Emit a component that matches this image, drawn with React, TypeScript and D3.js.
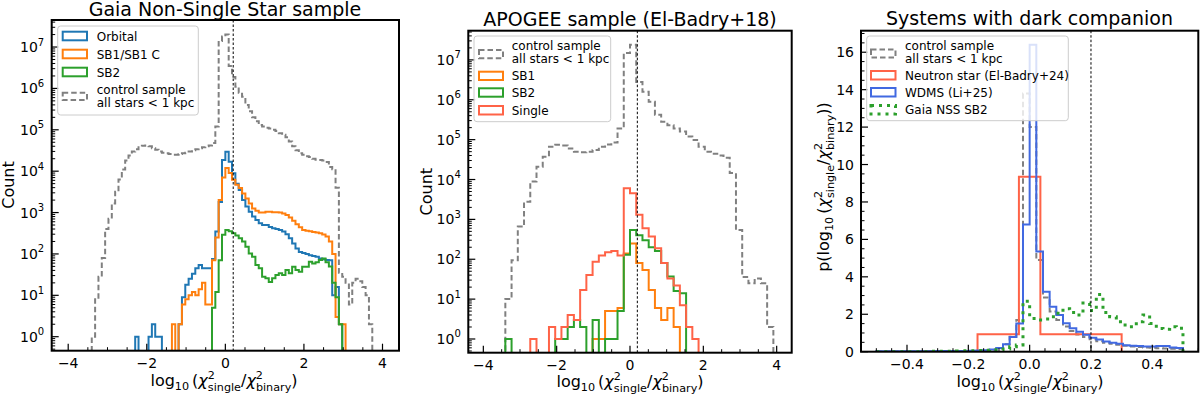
import React from "react";
import * as d3 from "d3";

const FONT = "'DejaVu Sans', sans-serif";

// ---------------- Panel 1: Gaia Non-Single Star sample ----------------
const p1ControlStart = -3.4;
const p1ControlBin = 0.085;
const p1Control = [
  1, 8, 28, 80, 400, 710, 1660, 3200, 6300, 11000, 18000, 24000, 30000, 34000, 38000, 41000, 42000,
  40000, 36000, 33000, 30000, 28000, 27000, 26000, 25000, 25000, 26000, 27000, 28000, 30000, 32000,
  34000, 36000, 38000, 40000, 42000, 48000, 120000, 1.4e7, 1.8e7, 2.0e7, 3.5e6, 1.9e6, 1.1e6, 7.9e5,
  6.3e5, 4.0e5, 2.8e5, 2.0e5, 1.6e5, 1.3e5, 1.2e5, 1.12e5, 1.07e5, 1.0e5, 93000, 83000, 76000, 66000,
  52000, 40000, 32000, 27000, 25000, 23000, 22000, 20000, 19000, 18600, 18200, 16600, 12600, 11200,
  4000, 35, 28, 20, 6, 20, 25, 22, 16, 10, 2,
];
const p1Start = -2.38;
const p1Bin = 0.085;
const p1Orbital = [
  0, 1, 0, 0, 0, 1, 2, 1, 1, 0, 0, 0, 0, 0, 2, 9, 18, 25, 33, 45, 54, 45, 45, 45, 75, 350, 1800, 18600,
  29500, 17000, 8900, 5000, 3500, 2000, 1400, 1050, 800, 660, 550, 500, 500, 450, 420, 400, 380, 350,
  300, 240, 180, 135, 112, 105, 100, 93, 89, 85, 78, 74, 71, 70, 10, 16, 2, 0,
];
const p1SB1 = [
  0, 0, 0, 0, 0, 0, 0, 0, 0, 0, 0, 0, 2, 0, 2, 6, 8, 10, 12, 10, 14, 20, 6, 6, 70, 250, 2000, 7000,
  12000, 9000, 6200, 4700, 3900, 2900, 2200, 1650, 1260, 1100, 1000, 1000, 1050, 1050, 1020, 1020,
  1000, 950, 870, 760, 630, 525, 440, 380, 363, 355, 340, 330, 316, 295, 263, 200, 100, 3, 2, 2, 0,
];
const p1SB2 = [
  0, 0, 0, 0, 0, 0, 0, 0, 0, 0, 0, 0, 0, 0, 0, 0, 0, 0, 0, 0, 0, 0, 0, 0, 5, 12, 70, 290, 380, 355, 316,
  280, 240, 200, 150, 102, 85, 54, 45, 28, 26, 21, 26, 31, 34, 31, 41, 34, 49, 41, 37, 49, 49, 65, 59,
  63, 71, 78, 63, 50, 20, 9, 2, 0,
];

// ---------------- Panel 2: APOGEE sample ----------------
const p2Start = -3.4;
const p2Bin = 0.17;
const p2Control = [
  10, 95, 660, 2750, 8900, 21000, 37000, 66000, 74000, 71000, 60000, 50000, 48000, 50000, 55000,
  66000, 76000, 85000, 190000, 1.5e7, 2.4e7, 2.8e6, 1.6e6, 8.9e5, 4.2e5, 2.8e5, 2.3e5, 1.9e5, 1.6e5,
  1.2e5, 98000, 66000, 50000, 44000, 40000, 35000, 14500, 540, 36, 25, 33, 25, 2,
];
const p2SB1 = [0, 0, 0, 0, 0, 0, 0, 0, 0, 0, 0, 0, 0, 0, 1, 1, 5, 5, 6, 140, 250, 80, 54, 17, 6, 3, 6, 2];
const p2SB2 = [1, 0, 0, 0, 0, 0, 0, 0, 1, 1, 2, 3, 2, 0, 3, 0, 1, 1, 5, 130, 540, 400, 300, 200, 160, 80, 37, 16, 14];
const p2Single = [0, 0, 0, 0, 1, 0, 0, 2, 1, 2, 4, 3, 17, 40, 87, 125, 150, 160, 125, 6000, 4500, 1300, 600, 370, 190, 80, 33, 22, 7, 2, 1];

// ---------------- Panel 3: Systems with dark companion ----------------
const p3Start = -0.5;
const p3Bin = 1 / 46;
const p3Control = [
  0.01, 0.01, 0.01, 0.01, 0.01, 0.01, 0.02, 0.02, 0.02, 0.02, 0.02, 0.03, 0.03, 0.03, 0.04, 0.05, 0.06,
  0.1, 0.18, 0.4, 0.8, 1.7, 13.8, 12.0, 4.9, 2.9, 2.15, 1.7, 1.35, 1.1, 0.92, 0.78, 0.66, 0.56, 0.48,
  0.42, 0.37, 0.32, 0.28, 0.25, 0.23, 0.21, 0.19, 0.17, 0.16, 0.15,
];
const p3NeutronEdges = [-0.17, -0.035, 0.035, 0.3];
const p3Neutron = [0.93, 9.35, 0.93];
const p3WDMS = [
  0.02, 0.02, 0.02, 0.02, 0.03, 0.02, 0.03, 0.03, 0.03, 0.04, 0.04, 0.04, 0.04, 0.04, 0.05, 0.06, 0.08,
  0.12, 0.2, 0.4, 0.78, 1.5, 6.8, 16.4, 5.35, 3.2, 2.4, 1.96, 1.52, 1.25, 1.07, 0.9, 0.75, 0.65, 0.55,
  0.48, 0.43, 0.35, 0.32, 0.3, 0.28, 0.28, 0.3, 0.3, 0.22, 0.2,
];
const p3NSS = [
  0, 0, 0, 0, 0, 0, 0, 0, 0.02, 0.03, 0.03, 0.03, 0.04, 0.05, 0.05, 0.06, 0.08, 0.1, 0.1, 0.15, 0.27,
  0.36, 2.7, 1.78, 1.7, 1.75, 1.87, 2.05, 2.3, 2.1, 1.96, 2.6, 2.2, 3.05, 2.1, 1.87, 1.6, 1.42, 1.33,
  1.6, 1.96, 1.5, 1.24, 1.2, 1.33, 1.25,
];

const logTicks = [0, 1, 2, 3, 4, 5, 6, 7];
const wideTicks = [-4, -2, 0, 2, 4];
const narrowTicks = [-0.4, -0.2, 0.0, 0.2, 0.4];
const densityTicks = [0, 2, 4, 6, 8, 10, 12, 14, 16];

const C = {
  blue: "#1f77b4",
  orange: "#ff7f0e",
  green: "#2ca02c",
  gray: "#808080",
  red: "tomato",
  royal: "royalblue",
};

type Box = { l: number; r: number; t: number; b: number };

function edgesOf(start: number, w: number, n: number) {
  return d3.range(n + 1).map((i) => start + i * w);
}

function stepPath(edges: number[], vals: number[], xs: any, ys: any, floor: number) {
  const yv = (v: number) => ys(Math.max(v, floor));
  let d = `M${xs(edges[0])},${ys(floor)}`;
  vals.forEach((v, i) => {
    d += `L${xs(edges[i])},${yv(v)}L${xs(edges[i + 1])},${yv(v)}`;
  });
  d += `L${xs(edges[vals.length])},${ys(floor)}`;
  return d;
}

function mathLabel(prefix: string, suffix: string) {
  const s = 11.2;
  return [
    <tspan key="p">{prefix}log</tspan>,
    <tspan key="a" fontSize={s} dy={4}>10</tspan>,
    <tspan key="b" dy={-4} dx={3}>(</tspan>,
    <tspan key="c" fontStyle="italic">χ</tspan>,
    <tspan key="d" fontSize={s} dy={-7}>2</tspan>,
    <tspan key="e" fontSize={s} dx={-7.1} dy={12}>single</tspan>,
    <tspan key="f" dy={-5}>/</tspan>,
    <tspan key="g" fontStyle="italic">χ</tspan>,
    <tspan key="h" fontSize={s} dy={-7}>2</tspan>,
    <tspan key="i" fontSize={s} dx={-7.1} dy={12}>binary</tspan>,
    <tspan key="j" dy={-5}>){suffix}</tspan>,
  ];
}

function Frame({ box }: { box: Box }) {
  return <rect x={box.l} y={box.t} width={box.r - box.l} height={box.b - box.t} fill="none" stroke="#000" strokeWidth={2} />;
}

function XTicks({ box, xs, majors, minors, fmt }: any) {
  const [d0, d1] = xs.domain();
  return (
    <g>
      {minors.filter((v: number) => v >= d0 && v <= d1).map((v: number, i: number) => (
        <line key={"mn" + i} x1={xs(v)} x2={xs(v)} y1={box.b} y2={box.b - 3.5} stroke="#000" strokeWidth={1} />
      ))}
      {majors.map((v: number, i: number) => (
        <g key={"mj" + i}>
          <line x1={xs(v)} x2={xs(v)} y1={box.b} y2={box.b - 7} stroke="#000" strokeWidth={1.2} />
          <text x={xs(v)} y={box.b + 16.8} textAnchor="middle" fontSize={14} fontFamily={FONT}>
            {fmt(v)}
          </text>
        </g>
      ))}
    </g>
  );
}

function LogYTicks({ box, ys }: any) {
  const [d0, d1] = ys.domain();
  const minors: number[] = [];
  for (let e = -1; e <= 8; e++) for (let m = 2; m <= 9; m++) {
    const v = m * Math.pow(10, e);
    if (v >= d0 && v <= d1) minors.push(v);
  }
  return (
    <g>
      {minors.map((v, i) => (
        <line key={"mn" + i} x1={box.l} x2={box.l + 3.5} y1={ys(v)} y2={ys(v)} stroke="#000" strokeWidth={1} />
      ))}
      {logTicks.map((e) => (
        <g key={"mj" + e}>
          <line x1={box.l} x2={box.l + 7} y1={ys(Math.pow(10, e))} y2={ys(Math.pow(10, e))} stroke="#000" strokeWidth={1.2} />
          <text x={box.l - 7.5} y={ys(Math.pow(10, e)) + 5} textAnchor="end" fontSize={14} fontFamily={FONT}>
            10<tspan fontSize={10} dy={-6.5}>{e}</tspan>
          </text>
        </g>
      ))}
    </g>
  );
}

type LegItem = { lines: string[]; color: string; dash?: string; width?: number; hy: [number, number]; ty: number[] };

function Legend({ box, hx, tx, items }: { box: Box; hx: [number, number]; tx: number; items: LegItem[] }) {
  return (
    <g>
      <rect x={box.l} y={box.t} width={box.r - box.l} height={box.b - box.t} rx={3} fill="#fff" fillOpacity={0.8} stroke="#cccccc" strokeWidth={1} />
      {items.map((it, i) => (
        <g key={i}>
          <rect x={hx[0]} y={it.hy[0]} width={hx[1] - hx[0]} height={it.hy[1] - it.hy[0]} fill="none" stroke={it.color} strokeWidth={it.width ?? 2} strokeDasharray={it.dash} />
          {it.lines.map((s, j) => (
            <text key={j} x={tx} y={it.ty[j]} fontSize={12} fontFamily={FONT}>
              {s}
            </text>
          ))}
        </g>
      ))}
    </g>
  );
}

const minus = (s: string) => s.replace("-", "\u2212");

export default function App() {
  const B1: Box = { l: 51.7, r: 399, t: 20, b: 350.7 };
  const B2: Box = { l: 468.3, r: 791.7, t: 30.7, b: 352.7 };
  const B3: Box = { l: 861, r: 1198.3, t: 30.7, b: 351.7 };

  const x1 = d3.scaleLinear().domain([-4.42, 4.42]).range([B1.l, B1.r]);
  const y1 = d3.scaleLog().domain([0.459, 4.5e7]).range([B1.b, B1.t]);
  const x2 = d3.scaleLinear().domain([-4.41, 4.41]).range([B2.l, B2.r]);
  const y2 = d3.scaleLog().domain([0.453, 5.4e7]).range([B2.b, B2.t]);
  const x3 = d3.scaleLinear().domain([-0.55, 0.55]).range([B3.l, B3.r]);
  const y3 = d3.scaleLinear().domain([0, 17.15]).range([B3.b, B3.t]);

  const wideMinors = d3.range(-4.5, 4.51, 0.5).filter((v) => Math.abs(v % 2) > 1e-9);
  const narrowMinors = d3.range(-0.55, 0.551, 0.05).map((v) => Math.round(v * 100) / 100).filter((v) => Math.abs(Math.round(v * 100) % 20) !== 0);
  const densMinors = d3.range(0, 17.1, 0.5).filter((v) => v % 2 !== 0);

  const grayDash = "5.5,3";
  const lw = 2;

  const e1c = edgesOf(p1ControlStart, p1ControlBin, p1Control.length);
  const e1 = (n: number) => edgesOf(p1Start, p1Bin, n);
  const e2 = (n: number) => edgesOf(p2Start, p2Bin, n);
  const e3 = (n: number) => edgesOf(p3Start, p3Bin, n);

  return (
    <svg width={1200} height={396} style={{ display: "block", position: "absolute", left: 0, top: 0, background: "#fff" }} fontFamily={FONT}>
      <defs>
        <clipPath id="c1"><rect x={B1.l} y={B1.t} width={B1.r - B1.l} height={B1.b - B1.t} /></clipPath>
        <clipPath id="c2"><rect x={B2.l} y={B2.t} width={B2.r - B2.l} height={B2.b - B2.t} /></clipPath>
        <clipPath id="c3"><rect x={B3.l} y={B3.t} width={B3.r - B3.l} height={B3.b - B3.t} /></clipPath>
      </defs>
      <rect x={0} y={0} width={1200} height={396} fill="#fff" />

      {/* ---------- Panel 1 ---------- */}
      <g clipPath="url(#c1)" fill="none" strokeLinejoin="miter">
        <path d={stepPath(e1(p1Orbital.length), p1Orbital, x1, y1, 0.01)} stroke={C.blue} strokeWidth={lw} />
        <path d={stepPath(e1(p1SB1.length), p1SB1, x1, y1, 0.01)} stroke={C.orange} strokeWidth={lw} />
        <path d={stepPath(e1(p1SB2.length), p1SB2, x1, y1, 0.01)} stroke={C.green} strokeWidth={lw} />
        <path d={stepPath(e1c, p1Control, x1, y1, 0.01)} stroke={C.gray} strokeWidth={lw} strokeDasharray={grayDash} />
        <line x1={x1(0.2)} x2={x1(0.2)} y1={B1.t} y2={B1.b} stroke="#000" strokeWidth={1} strokeDasharray="2.5,2" />
      </g>
      <XTicks box={B1} xs={x1} majors={wideTicks} minors={wideMinors} fmt={(v: number) => minus(String(v))} />
      <LogYTicks box={B1} ys={y1} />
      <Frame box={B1} />
      <Legend
        box={{ l: 57.7, r: 198.3, t: 26, b: 115 }}
        hx={[62.7, 87]}
        tx={96.7}
        items={[
          { lines: ["Orbital"], color: C.blue, hy: [31.7, 40.3], ty: [40.5] },
          { lines: ["SB1/SB1 C"], color: C.orange, hy: [49.7, 58.3], ty: [58.5] },
          { lines: ["SB2"], color: C.green, hy: [67.7, 76.3], ty: [76.5] },
          { lines: ["control sample", "all stars < 1 kpc"], color: C.gray, dash: grayDash, hy: [92.7, 100], ty: [94, 107.3] },
        ]}
      />
      <text x={225} y={15.8} textAnchor="middle" fontSize={19}>Gaia Non-Single Star sample</text>
      <text transform="translate(14,185) rotate(-90)" textAnchor="middle" fontSize={16}>Count</text>
      <text x={224} y={386} textAnchor="middle" fontSize={16}>{mathLabel("", "")}</text>

      {/* ---------- Panel 2 ---------- */}
      <g clipPath="url(#c2)" fill="none">
        <path d={stepPath(e2(p2Control.length), p2Control, x2, y2, 0.01)} stroke={C.gray} strokeWidth={lw} strokeDasharray={grayDash} />
        <path d={stepPath(e2(p2SB1.length), p2SB1, x2, y2, 0.01)} stroke={C.orange} strokeWidth={lw} />
        <path d={stepPath(e2(p2SB2.length), p2SB2, x2, y2, 0.01)} stroke={C.green} strokeWidth={lw} />
        <path d={stepPath(e2(p2Single.length), p2Single, x2, y2, 0.01)} stroke={C.red} strokeWidth={lw} />
        <line x1={x2(0.2)} x2={x2(0.2)} y1={B2.t} y2={B2.b} stroke="#000" strokeWidth={1} strokeDasharray="2.5,2" />
      </g>
      <XTicks box={B2} xs={x2} majors={wideTicks} minors={wideMinors} fmt={(v: number) => minus(String(v))} />
      <LogYTicks box={B2} ys={y2} />
      <Frame box={B2} />
      <Legend
        box={{ l: 474, r: 610.7, t: 36, b: 121.7 }}
        hx={[479, 503]}
        tx={511.7}
        items={[
          { lines: ["control sample", "all stars < 1 kpc"], color: C.gray, dash: grayDash, hy: [50, 58.3], ty: [50, 63.3] },
          { lines: ["SB1"], color: C.orange, hy: [71.7, 80], ty: [80.3] },
          { lines: ["SB2"], color: C.green, hy: [88.3, 96.7], ty: [97] },
          { lines: ["Single"], color: C.red, hy: [106, 114.5], ty: [114.5] },
        ]}
      />
      <text x={630} y={26} textAnchor="middle" fontSize={19}>APOGEE sample (El-Badry+18)</text>
      <text transform="translate(432,191.7) rotate(-90)" textAnchor="middle" fontSize={16}>Count</text>
      <text x={630} y={387} textAnchor="middle" fontSize={16}>{mathLabel("", "")}</text>

      {/* ---------- Panel 3 ---------- */}
      <g clipPath="url(#c3)" fill="none">
        <path d={stepPath(e3(p3Control.length), p3Control, x3, y3, 0)} stroke={C.gray} strokeWidth={lw} strokeDasharray={grayDash} />
        <path d={stepPath(p3NeutronEdges, p3Neutron, x3, y3, 0)} stroke={C.red} strokeWidth={lw} />
        <path d={stepPath(e3(p3WDMS.length), p3WDMS, x3, y3, 0)} stroke={C.royal} strokeWidth={lw} />
        <path d={stepPath(e3(p3NSS.length), p3NSS, x3, y3, 0)} stroke={C.green} strokeWidth={3} strokeDasharray="3,5" />
        <line x1={x3(0.2)} x2={x3(0.2)} y1={B3.t} y2={B3.b} stroke="#000" strokeWidth={1} strokeDasharray="2.5,2" />
      </g>
      <XTicks box={B3} xs={x3} majors={narrowTicks} minors={narrowMinors} fmt={(v: number) => minus(v.toFixed(1))} />
      <g>
        {densMinors.map((v, i) => (
          <line key={"dm" + i} x1={B3.l} x2={B3.l + 3.5} y1={y3(v)} y2={y3(v)} stroke="#000" strokeWidth={1} />
        ))}
        {densityTicks.map((v) => (
          <g key={"dt" + v}>
            <line x1={B3.l} x2={B3.l + 7} y1={y3(v)} y2={y3(v)} stroke="#000" strokeWidth={1.2} />
            <text x={B3.l - 7} y={y3(v) + 5} textAnchor="end" fontSize={14}>{v}</text>
          </g>
        ))}
      </g>
      <Frame box={B3} />
      <Legend
        box={{ l: 866.7, r: 1068.3, t: 36, b: 120.7 }}
        hx={[871, 895.5]}
        tx={905}
        items={[
          { lines: ["control sample", "all stars < 1 kpc"], color: C.gray, dash: grayDash, hy: [49.5, 57.5], ty: [49.5, 62.8] },
          { lines: ["Neutron star (El-Badry+24)"], color: C.red, hy: [71, 79.5], ty: [80] },
          { lines: ["WDMS (Li+25)"], color: C.royal, hy: [88, 96.5], ty: [97] },
          { lines: ["Gaia NSS SB2"], color: C.green, dash: "3,5", width: 3, hy: [105.5, 114], ty: [114] },
        ]}
      />
      <text x={1029.5} y={25} textAnchor="middle" fontSize={19}>Systems with dark companion</text>
      <text transform="translate(829,187) rotate(-90)" textAnchor="middle" fontSize={16}>{mathLabel("p(", ")")}</text>
      <text x={1030} y={387} textAnchor="middle" fontSize={16}>{mathLabel("", "")}</text>
    </svg>
  );
}
